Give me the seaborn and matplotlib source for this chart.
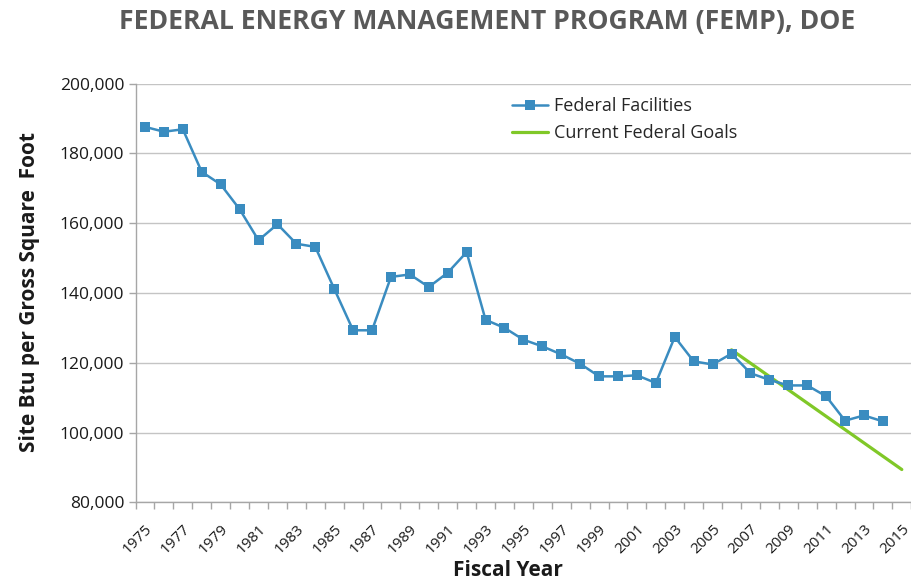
import matplotlib
matplotlib.use("Agg")
import matplotlib.pyplot as plt
import seaborn as sns
import pandas as pd
from matplotlib.ticker import FixedLocator, FuncFormatter, NullFormatter

# ---- data ----
years = list(range(1975, 2015))
facilities = [187600, 186200, 186900, 174700, 171100, 164000, 155100, 159700, 154100, 153200,
              141200, 129300, 129300, 144600, 145300, 141700, 145800, 151700, 132300, 130000,
              126600, 124700, 122400, 119700, 116100, 116100, 116400, 114200, 127400, 120400,
              119500, 122600, 117000, 115100, 113500, 113500, 110400, 103400, 104900, 103200]
goal_years = [2006, 2015]
goal_values = [123700, 89400]
y_ticks = [80000, 100000, 120000, 140000, 160000, 180000, 200000]
x_label_years = list(range(1975, 2016, 2))

title = "FEDERAL ENERGY MANAGEMENT PROGRAM (FEMP), DOE"
series_names = ["Federal Facilities", "Current Federal Goals"]

blue = "#3A8CC0"
green = "#80C828"
axis_gray = "#A6A6A6"
grid_gray = "#C4C4C4"

sns.set_theme(style="white")
plt.rcParams['font.family'] = ['Open Sans', 'DejaVu Sans']

fig = plt.figure(figsize=(9.12, 5.82), dpi=100)
ax = fig.add_axes([0.1486, 0.1369, 0.8506, 0.7195])

df = pd.DataFrame({"year": years, "value": facilities})
gdf = pd.DataFrame({"year": goal_years, "value": goal_values})

sns.lineplot(data=gdf, x="year", y="value", ax=ax, color=green, linewidth=2.3,
             label=series_names[1], zorder=2)
sns.lineplot(data=df, x="year", y="value", ax=ax, color=blue, linewidth=1.8,
             marker="s", markersize=6.5, markeredgewidth=0, label=series_names[0], zorder=3)

ax.set_xlim(1974.5, 2015.5)
ax.set_ylim(80000, 200000)

ax.yaxis.set_major_locator(FixedLocator(y_ticks))
ax.yaxis.set_major_formatter(FuncFormatter(lambda v, p: f"{int(v):,}"))
ax.yaxis.grid(True, color=grid_gray, linewidth=1.0)
ax.set_axisbelow(True)

ax.xaxis.set_major_locator(FixedLocator(x_label_years))
ax.set_xticklabels([str(y) for y in x_label_years], rotation=45, ha="right", va="top",
                   rotation_mode="anchor", fontsize=11, color="#1a1a1a")
ax.xaxis.set_minor_locator(FixedLocator([y + 0.5 for y in range(1974, 2016)]))
ax.xaxis.set_minor_formatter(NullFormatter())
ax.tick_params(axis="x", which="major", length=0, pad=14)
ax.tick_params(axis="x", which="minor", length=5, width=1, color=axis_gray, direction="out", bottom=True)
ax.tick_params(axis="y", which="major", length=5, width=1, color=axis_gray, direction="out",
               labelsize=12.5, labelcolor="#1a1a1a", left=True, pad=3)

for s in ["top", "right"]:
    ax.spines[s].set_visible(False)
for s in ["left", "bottom"]:
    ax.spines[s].set_color(axis_gray)
    ax.spines[s].set_linewidth(1.0)

ax.set_xlabel("")
ax.set_ylabel("")

handles, labels = ax.get_legend_handles_labels()
order = [labels.index(series_names[0]), labels.index(series_names[1])]
ax.legend([handles[i] for i in order], [labels[i] for i in order],
          loc="upper left", bbox_to_anchor=(505 / 912, 1 - 90 / 582),
          bbox_transform=fig.transFigure, frameon=False, fontsize=13,
          handlelength=2.0, labelspacing=0.5, handletextpad=0.3, borderaxespad=0)

fig.text(487 / 912, 1 - 22 / 582, title, ha="center", va="center", fontsize=19.2,
         fontweight="bold", color="#595959")
fig.text(30 / 912, 1 - 292 / 582, "Site Btu per Gross Square  Foot", rotation=90,
         ha="center", va="center", fontsize=15, fontweight="bold", color="#1a1a1a")
fig.text(508 / 912, 1 - 570 / 582, "Fiscal Year", ha="center", va="center",
         fontsize=15, fontweight="bold", color="#1a1a1a")

fig.savefig("out.png", dpi=100)
